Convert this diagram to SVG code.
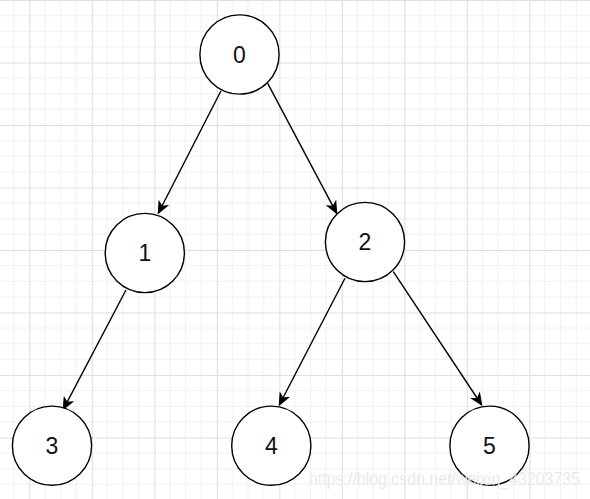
<svg xmlns="http://www.w3.org/2000/svg" width="590" height="499" viewBox="0 0 590 499">
<style>
.node circle{fill:#fff;stroke:#000;stroke-width:1.4}
.node text{font-family:"Liberation Sans",Arial,sans-serif;font-size:23px;fill:#111;text-anchor:middle}
.edge{stroke:#000;stroke-width:1.4;fill:none;marker-end:url(#arrow)}
</style>
<defs>
<pattern id="grid" patternUnits="userSpaceOnUse" x="29.3" y="0" width="62.5" height="62.5">
<path d="M15.625 0V62.5M31.25 0V62.5M46.875 0V62.5M0 15.625H62.5M0 31.25H62.5M0 46.875H62.5" stroke="#f0f0f0" stroke-width="1" fill="none"/>
<path d="M0.5 0V62.5M0 0.5H62.5" stroke="#dedede" stroke-width="1.2" fill="none"/>
</pattern>
<marker id="arrow" markerUnits="userSpaceOnUse" markerWidth="14" markerHeight="14" viewBox="-12 -7 14 14" refX="0" refY="0" orient="auto">
<path d="M0,0 L-11,-4.8 L-8,0 L-11,4.8 Z" fill="#000" stroke="#000" stroke-width="1"/>
</marker>
</defs>
<rect width="590" height="499" fill="#fff"/>
<rect width="590" height="499" fill="url(#grid)"/>
<g id="connectors">
<line class="edge" x1="221" y1="90.7" x2="158.3" y2="213.3"/>
<line class="edge" x1="267.7" y1="83.3" x2="336.7" y2="213.3"/>
<line class="edge" x1="126" y1="290" x2="63.3" y2="409.3"/>
<line class="edge" x1="345" y1="278.3" x2="279.3" y2="405"/>
<line class="edge" x1="393.3" y1="271.7" x2="481.7" y2="405"/>
</g>
<g id="node0" class="node"><circle cx="239.5" cy="54.5" r="39.6"/><text x="239.5" y="62.5">0</text></g>
<g id="node1" class="node"><circle cx="144.8" cy="253" r="39.6"/><text x="144.8" y="261">1</text></g>
<g id="node2" class="node"><circle cx="365" cy="242" r="39.6"/><text x="365" y="250">2</text></g>
<g id="node3" class="node"><circle cx="52" cy="445.7" r="39.6"/><text x="52" y="453.7">3</text></g>
<g id="node4" class="node"><circle cx="271.3" cy="445.7" r="39.6"/><text x="271.3" y="453.7">4</text></g>
<g id="node5" class="node"><circle cx="489.5" cy="445.7" r="39.6"/><text x="489.5" y="453.7">5</text></g>
<text x="309" y="485" textLength="271" lengthAdjust="spacingAndGlyphs" font-family="'Liberation Sans',Arial,sans-serif" font-size="18" fill="#e0e0e0" fill-opacity="0.85" stroke="#fff" stroke-opacity="0.5" stroke-width="0.6">https://blog.csdn.net/weixin_43203735</text>
</svg>
